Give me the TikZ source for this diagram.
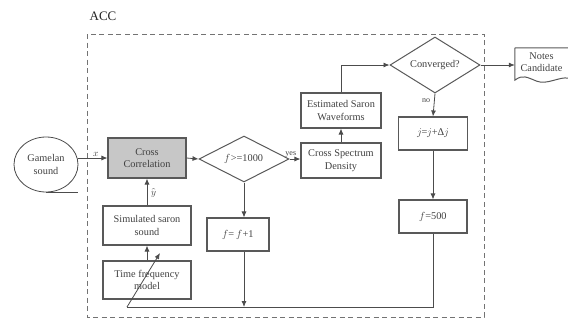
\documentclass[tikz,border=0pt]{standalone}
\usepackage{fontspec}
\setmainfont{Liberation Serif}
\usepackage{unicode-math}
\setmathfont{Latin Modern Math}
\usetikzlibrary{shapes.geometric,arrows.meta}
\begin{document}
\begin{tikzpicture}[x=1pt,y=-1pt,
  every node/.style={font=\fontsize{10.3}{12.5}\selectfont, text=black!75},
  box/.style={draw=black!65, line width=1.1pt, rectangle, align=center, inner sep=1pt},
  dia/.style={draw=black!65, line width=1pt, diamond, aspect=2, inner sep=0pt, align=center},
  ln/.style={draw=black!70, line width=0.8pt},
  arr/.style={ln, -{Latex[length=6pt,width=5pt]}},
  lab/.style={font=\fontsize{8}{10}\selectfont, inner sep=1pt}
]
\useasboundingbox (0,0) rectangle (568,322);
% dashed frame
\draw[black!55, line width=1pt, dash pattern=on 5pt off 3.5pt] (87,34) rectangle (484,317);
\node[font=\fontsize{13}{15}\selectfont, text=black!85] (acc) at (103,16) {ACC};
% nodes
\node[draw=black!70, line width=0.8pt, ellipse, minimum width=64, minimum height=55, align=center, inner sep=0pt] (gam) at (46,164.5) {Gamelan\\sound};
\node[box, fill=black!22, minimum width=78, minimum height=40] (cc) at (147,158) {Cross\\Correlation};
\node[dia, minimum width=90, minimum height=46] (d1) at (244,159) {$f$>=1000};
\node[box, minimum width=80, minimum height=35] (csd) at (341,160.5) {Cross Spectrum\\Density};
\node[box, minimum width=80, minimum height=35] (esw) at (341,110.5) {Estimated Saron\\Waveforms};
\node[dia, minimum width=90, minimum height=56] (d2) at (435,65) {Converged?};
\node[minimum width=53, minimum height=28, inner sep=0pt, align=center] (nc) at (541.5,62) {Notes\\Candidate};
\node[box, minimum width=69, minimum height=33] (jb) at (433,133.5) {$j$=$j$+Δ$j$};
\node[box, minimum width=68, minimum height=33] (f5) at (433,216.5) {$f$=500};
\node[box, minimum width=62, minimum height=33] (ff) at (238,234.5) {$f$= $f$+1};
\node[box, minimum width=88, minimum height=39] (sss) at (147,225.5) {Simulated saron\\sound};
\node[box, minimum width=88, minimum height=38] (tfm) at (147,280) {Time frequency\\model};
% document shape
\draw[black!65, line width=1pt] (nc.north west) -- (nc.north east)
  (nc.north west) -- ([yshift=-4pt]nc.south west)
  .. controls +(8,-6) and +(-10,-4) .. ([xshift=22pt,yshift=-5pt]nc.south west)
  .. controls +(10,4) and +(-8,-2) .. ([yshift=-2pt]nc.south east);
% tape line
\draw[ln] (gam.south) -- (gam.south -| gam.east);
% connectors
\draw[arr] (gam.east |- cc.west) -- node[lab, above, pos=0.6, font=\fontsize{9.5}{10}\selectfont] {$x$} (cc.west);
\draw[arr] (cc.east) -- (d1.west);
\draw[arr] (d1.east) -- node[lab, above, pos=0.12] {yes} (d1.east -| csd.west);
\draw[arr] (csd.north) -- (esw.south);
\draw[arr] (esw.north) |- (d2.west);
\draw[arr] (d2.east) -- (d2.east -| nc.west);
\draw[arr] (d2.south) -- node[lab, left, pos=0.3, xshift=-3pt] {no} (jb.north);
\draw[arr] (jb.south) -- (f5.north);
\draw[arr] (d1.south) -- (d1.south |- ff.north);
\coordinate (bl) at (127,307);
\coordinate (dt) at (160,253);
\draw[ln] (f5.south) |- (bl);
\draw[arr] (d1.south |- ff.south) -- (d1.south |- bl);
\draw[arr] (bl) -- (dt);
\draw[arr] (tfm.north) -- (sss.south);
\draw[arr] (sss.north) -- node[lab, right, pos=0.45, xshift=3pt, font=\fontsize{9.5}{10}\selectfont] {$\hat{y}$} (cc.south);
\end{tikzpicture}
\end{document}
